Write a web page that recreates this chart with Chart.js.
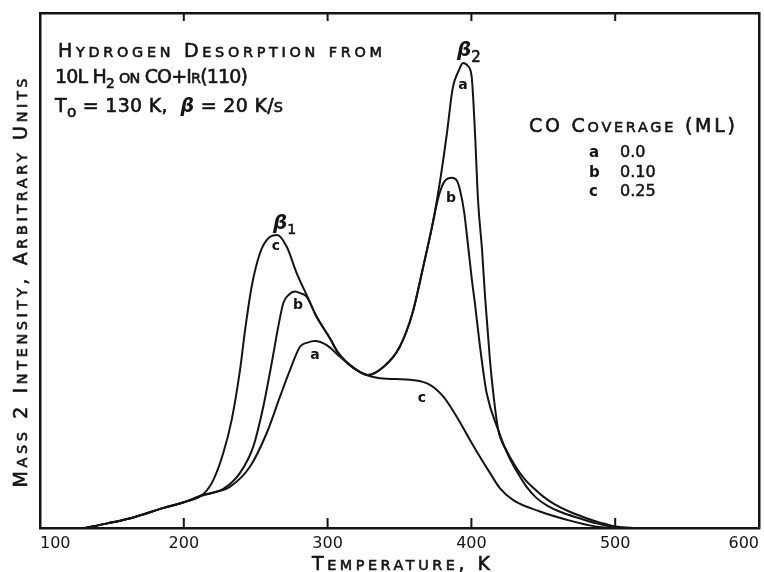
<!DOCTYPE html>
<html lang="en">
<head>
<meta charset="UTF-8">
<title>Hydrogen Desorption from 10L H2 on CO+Ir(110)</title>
<script src="https://cdn.jsdelivr.net/npm/chart.js"></script>
<style>
    html, body { margin: 0; padding: 0; background: #fff; }
    .chart-box { position: relative; width: 764px; height: 572px; }
</style>
</head>
<body>
<div class="chart-box"><canvas id="tpdChart"></canvas></div>
<script>
// Temperature (K) and mass 2 intensity (arbitrary units, 0-100)
const tempA = [131, 147, 163, 186, 200, 213, 221, 232, 246, 257.6, 266.9, 273.9, 280.8, 286, 291.2, 299.4, 307.2, 318, 328, 339,
               350, 359, 366, 373, 378, 383, 387, 391, 394.2, 397.6, 400.2, 402.5, 404.6, 407.4, 409.5, 412.9, 415.2, 418.7, 424.5, 431.5,
               437, 443, 450, 458, 468, 480, 490, 500, 515];
const intA  = [0, 0.9, 1.9, 3.9, 5.0, 6.3, 6.9, 8.0, 11.9, 18.4, 25.5, 30.7, 35.2, 36.0, 36.3, 35.5, 33.6, 31.1, 29.7, 31.3,
               35.1, 41.7, 50.1, 59.0, 67.0, 76.7, 85.4, 88.7, 90.3, 89.7, 87.6, 76.7, 63.7, 54.0, 44.9, 32.6, 26.2, 19.0, 15.0, 11.6,
               9.5, 7.8, 6.1, 4.6, 3.2, 1.9, 1.0, 0.3, 0];

const tempB = [131, 147, 163, 186, 200, 213, 227.5, 239.1, 248.3, 255.3, 261.1, 265.7, 269.2, 273, 277.3, 281, 285.5, 292.4, 301.7, 307.4,
               318, 328, 339, 350, 359, 366, 373, 376, 378.2, 381.6, 386.5, 390, 392.1, 394.9, 396.7, 400.2, 402.5, 405, 407.2, 410.6,
               418.7, 424.5, 431.5, 438.4, 445, 453, 463, 475, 487, 498.5, 510];
const intB  = [0, 0.9, 1.9, 3.9, 5.0, 6.4, 7.6, 10.7, 15.8, 23.6, 32.0, 39.1, 43.7, 45.3, 45.9, 45.6, 44.9, 41.0, 36.8, 34.0,
               31.1, 29.7, 31.3, 35.1, 41.7, 50.1, 59.0, 63.0, 65.3, 67.4, 68.0, 67.4, 65.6, 61.5, 57.3, 48.5, 43.5, 37.5, 32.6, 26.2,
               19.0, 14.8, 11.0, 8.0, 5.9, 4.3, 3.0, 1.9, 0.9, 0.2, 0];

const tempC = [131, 147, 163, 186, 200, 213.6, 220.5, 227.5, 233.3, 239.1, 242.6, 247.2, 253, 258.5, 265, 271.6, 278.5, 285.5, 292.4, 301.7,
               307.4, 318, 328, 336.4, 359.6, 371.2, 380.5, 389.8, 399, 406, 412.9, 419.9, 429.1, 447.7, 466.3, 487.1, 498.5];
const intC  = [0, 0.9, 1.9, 3.9, 5.0, 6.6, 9.3, 14.6, 21.0, 30.7, 38.4, 46.9, 53.4, 56.2, 56.9, 54.6, 49.5, 45.2, 41.0, 36.8,
               34.0, 31.1, 29.6, 29.1, 28.7, 27.8, 25.5, 21.6, 17.1, 13.8, 10.7, 7.7, 5.4, 3.2, 1.6, 0.25, 0];

const xTicks = [100, 200, 300, 400, 500, 600];

// legend: CO coverage (ML) per curve
const coverageKeys   = ['a', 'b', 'c'];
const coverageValues = ['0.0', '0.10', '0.25'];

// curve letters placed next to the peaks (data coordinates)
const tagKeys  = ['c', 'b', 'a', 'a', 'b', 'c'];
const tagTemps = [264.1, 279.4, 291.2, 394.2, 385.8, 365.6];
const tagInts  = [54.6, 43.3, 33.6, 86.0, 64.1, 25.2];

const ink = '#141414';
const family = '"DejaVu Sans", sans-serif';
const smallCap = 0.76;

function toPoints(xs, ys) {
    return xs.map((t, i) => ({ x: t, y: ys[i] }));
}

function runFont(run, size) {
    const s = (size * (run.scale || 1)).toFixed(1);
    return (run.italic ? 'italic ' : '') + (run.bold ? 'bold ' : '') + s + 'px ' + family;
}

// lettering style: lowercase letters are drawn as smaller capitals
function expandRuns(runs) {
    const out = [];
    runs.forEach(r => {
        if (r.plain) { out.push(r); return; }
        let buf = '', small = null;
        const flush = () => {
            if (buf) out.push(Object.assign({}, r, { t: buf, scale: (r.scale || 1) * (small ? smallCap : 1) }));
            buf = '';
        };
        for (const ch of r.t) {
            const isSmall = ch !== ch.toUpperCase();
            if (small !== null && isSmall !== small) flush();
            small = isSmall;
            buf += isSmall ? ch.toUpperCase() : ch;
        }
        flush();
    });
    return out;
}

// draws a row of text pieces, spread out to fill the given width
function drawRuns(ctx, rawRuns, x, y, size, width) {
    const runs = expandRuns(rawRuns);
    ctx.letterSpacing = '0px';
    let natural = 0, chars = 0;
    runs.forEach(r => {
        ctx.font = runFont(r, size);
        natural += ctx.measureText(r.t).width;
        chars += [...r.t].length;
    });
    const gap = width ? (width - natural) / Math.max(chars - 1, 1) : 0;
    let cx = x;
    ctx.lineWidth = 0.6;
    runs.forEach(r => {
        ctx.font = runFont(r, size);
        const w = ctx.measureText(r.t).width;
        ctx.letterSpacing = gap + 'px';
        ctx.fillText(r.t, cx, y + (r.dy || 0));
        if (!r.bold) ctx.strokeText(r.t, cx, y + (r.dy || 0));
        ctx.letterSpacing = '0px';
        cx += w + gap * [...r.t].length;
    });
}

const notesPlugin = {
    id: 'notes',
    afterDraw(chart) {
        const { ctx, chartArea: area, scales: { x, y } } = chart;
        ctx.save();
        ctx.fillStyle = ink;
        ctx.strokeStyle = ink;
        ctx.textAlign = 'left';
        ctx.textBaseline = 'alphabetic';

        // inward tick marks, bottom and top of the frame
        ctx.lineWidth = 2;
        xTicks.slice(1, -1).forEach(v => {
            const px = x.getPixelForValue(v);
            ctx.beginPath();
            ctx.moveTo(px, area.bottom);
            ctx.lineTo(px, area.bottom - 10);
            ctx.moveTo(px, area.top);
            ctx.lineTo(px, area.top + 8);
            ctx.stroke();
        });

        // header block
        drawRuns(ctx, [{ t: 'Hydrogen Desorption from' }], 58, 57, 19, 324);
        drawRuns(ctx, [{ t: '10L H' }, { t: '2', scale: 0.72, dy: 5 }, { t: ' on CO+Ir(110)' }], 55, 83, 19, 193);
        drawRuns(ctx, [{ t: 'T' }, { t: 'o', scale: 0.8, dy: 5, plain: true }, { t: ' = 130 K,  ' },
                       { t: 'β', italic: true, bold: true, plain: true }, { t: ' = 20 K/s' }], 55, 112, 19, 228);

        // peak names
        drawRuns(ctx, [{ t: 'β', italic: true, bold: true, plain: true }, { t: '1', scale: 0.7, dy: 5, plain: true }], 273, 229, 20);
        drawRuns(ctx, [{ t: 'β', italic: true, bold: true, plain: true }, { t: '2', scale: 0.75, dy: 6, plain: true }], 457, 56, 20);

        // legend
        drawRuns(ctx, [{ t: 'CO Coverage (ML)' }], 529, 132, 19, 206);
        coverageKeys.forEach((k, i) => {
            const by = 157 + i * 19.5;
            ctx.font = 'bold 15px ' + family;
            ctx.fillText(k, 589, by);
            ctx.font = '16px ' + family;
            ctx.lineWidth = 0.5;
            ctx.fillText(coverageValues[i], 620, by);
            ctx.strokeText(coverageValues[i], 620, by);
        });

        // curve letters
        ctx.textAlign = 'center';
        ctx.textBaseline = 'middle';
        ctx.font = 'bold 14px ' + family;
        tagKeys.forEach((k, i) => {
            ctx.fillText(k, x.getPixelForValue(tagTemps[i]), y.getPixelForValue(tagInts[i]));
        });

        // axis titles
        ctx.textAlign = 'left';
        ctx.textBaseline = 'alphabetic';
        drawRuns(ctx, [{ t: 'Temperature, K' }], 312, 570, 19, 178);
        ctx.save();
        ctx.translate(27, 283);
        ctx.rotate(-Math.PI / 2);
        drawRuns(ctx, [{ t: 'Mass 2 Intensity, Arbitrary Units' }], -204.5, 0, 19, 409);
        ctx.restore();

        ctx.restore();
    }
};

const frame = { display: true, color: ink, width: 2.5 };

function curve(label, xs, ys) {
    return {
        label: label,
        data: toPoints(xs, ys),
        borderColor: ink,
        borderWidth: 2,
        pointRadius: 0,
        fill: false,
        cubicInterpolationMode: 'monotone'
    };
}

const chart = new Chart(document.getElementById('tpdChart'), {
    type: 'line',
    data: {
        datasets: [
            curve('a', tempA, intA),
            curve('b', tempB, intB),
            curve('c', tempC, intC)
        ]
    },
    options: {
        responsive: true,
        maintainAspectRatio: false,
        animation: false,
        layout: { padding: { left: 40, right: 5, top: 13, bottom: 0 } },
        plugins: {
            legend: { display: false },
            tooltip: { enabled: false }
        },
        scales: {
            x: {
                type: 'linear',
                min: 100,
                max: 600,
                grid: { display: false, drawTicks: false },
                border: frame,
                ticks: {
                    stepSize: 100,
                    color: ink,
                    font: { family: family, size: 16 },
                    padding: 6,
                    align: 'inner',
                    maxRotation: 0
                },
                afterFit: s => { s.height = 44; s.paddingLeft = 0; s.paddingRight = 0; }
            },
            xTop: {
                type: 'linear',
                position: 'top',
                min: 100,
                max: 600,
                grid: { display: false, drawTicks: false },
                border: frame,
                ticks: { display: false },
                afterFit: s => { s.height = 0; }
            },
            y: {
                min: 0,
                max: 100,
                grid: { display: false, drawTicks: false },
                border: frame,
                ticks: { display: false },
                afterFit: s => { s.width = 0; }
            },
            yRight: {
                position: 'right',
                min: 0,
                max: 100,
                grid: { display: false, drawTicks: false },
                border: frame,
                ticks: { display: false },
                afterFit: s => { s.width = 0; }
            }
        }
    },
    plugins: [notesPlugin]
});
</script>
</body>
</html>
